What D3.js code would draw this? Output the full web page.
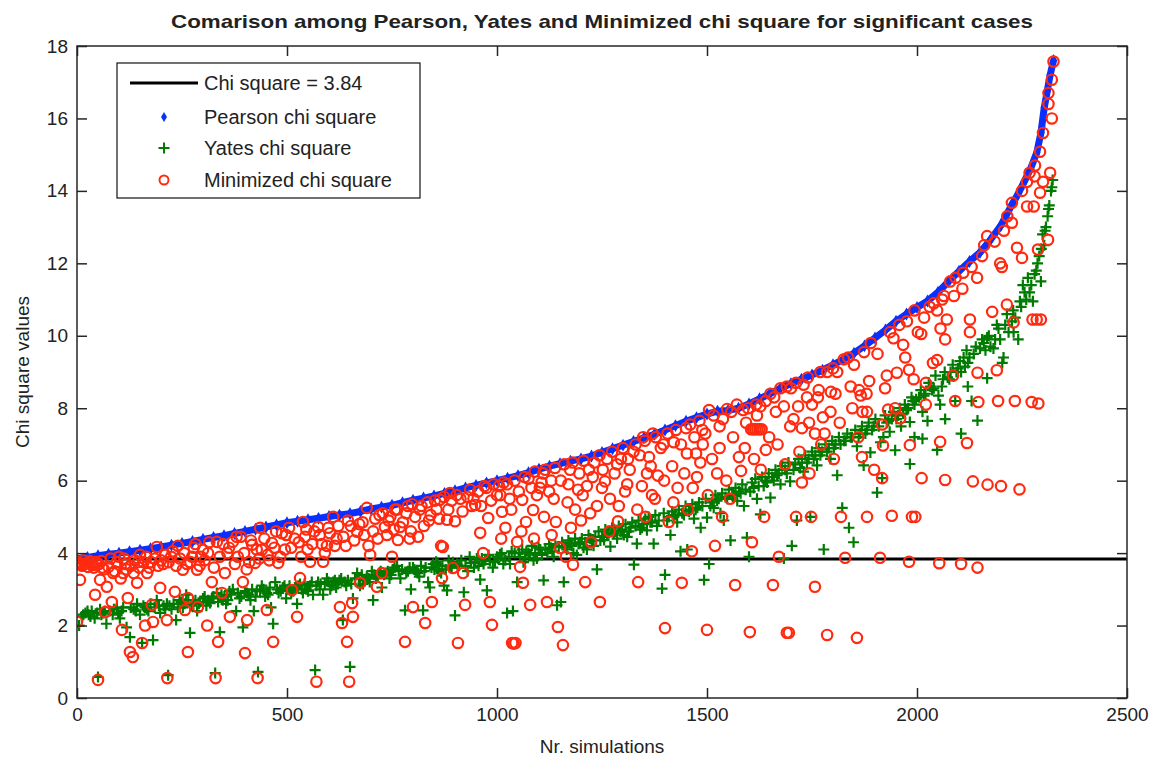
<!DOCTYPE html>
<html>
<head>
<meta charset="utf-8">
<script src="https://cdn.jsdelivr.net/npm/d3@7"></script>
<style>
  body { margin: 0; background: #fff; }
  text { font-family: "Liberation Sans", Arial, sans-serif; fill: #222; }
</style>
</head>
<body>
<div id="chart"></div>
<script>
// threshold
const critical = 3.84;

// Pearson chi square, sorted (simulation index, value)
const pearson = [
  [0,3.84],[25,3.88],[50,3.93],[75,3.97],[100,4.0],[125,4.04],[150,4.08],[175,4.12],[200,4.17],[225,4.22],
  [250,4.27],[275,4.32],[300,4.38],[325,4.43],[350,4.48],[375,4.54],[400,4.6],[425,4.66],[450,4.72],[475,4.78],
  [500,4.84],[525,4.88],[550,4.92],[575,4.96],[600,5.01],[625,5.05],[650,5.09],[675,5.15],[700,5.22],[725,5.27],
  [750,5.32],[775,5.39],[800,5.46],[825,5.52],[850,5.58],[875,5.65],[900,5.72],[925,5.8],[950,5.87],[975,5.94],
  [1000,6.0],[1025,6.07],[1050,6.14],[1075,6.22],[1100,6.32],[1125,6.4],[1150,6.47],[1175,6.54],[1200,6.6],[1225,6.68],
  [1250,6.78],[1275,6.88],[1300,6.98],[1325,7.08],[1350,7.18],[1375,7.28],[1400,7.4],[1425,7.52],[1450,7.64],[1475,7.74],
  [1500,7.84],[1525,7.92],[1550,7.94],[1575,8.0],[1600,8.12],[1625,8.26],[1650,8.4],[1675,8.55],[1700,8.68],[1725,8.8],
  [1750,8.92],[1775,9.05],[1800,9.2],[1825,9.35],[1850,9.52],[1875,9.72],[1900,9.94],[1925,10.16],[1950,10.4],[1975,10.6],
  [2000,10.78],[2025,10.96],[2050,11.2],[2075,11.5],[2100,11.78],[2125,12.05],[2150,12.3],[2175,12.65],[2200,13.05],[2225,13.6],
  [2240,13.9],[2255,14.25],[2270,14.6],[2285,15.05],[2295,15.6],[2303,16.3],[2310,16.75],[2317,17.2],[2325,17.6]
];

// Yates chi square: main band
const yatesBand = [
  [15,2.3],[25,2.4],[32,2.25],[48,2.35],[58,2.3],[66,2.4],[88,2.45],[98,2.35],[106,2.4],[128,2.5],[140,2.4],[158,2.55],
  [166,2.45],[175,2.6],[185,2.5],[195,2.55],[210,2.45],[220,2.55],[230,2.6],[240,2.5],[248,2.65],[256,2.6],[265,2.7],
  [273,2.55],[282,2.7],[290,2.6],[304,2.8],[312,2.7],[321,2.75],[336,2.65],[344,2.85],[351,2.8],[359,2.7],[367,2.85],
  [383,2.9],[391,2.8],[400,2.95],[409,2.85],[417,3.0],[425,2.8],[436,2.95],[444,3.0],[452,2.9],[459,3.05],[476,3.0],
  [485,2.95],[494,3.1],[502,3.0],[510,2.9],[519,3.05],[527,3.1],[535,3.0],[542,3.15],[550,2.95],[559,3.2],[570,3.1],
  [578,3.0],[590,3.15],[599,3.2],[606,3.1],[614,3.25],[621,3.15],[629,3.3],[637,3.2],[645,3.25],[653,3.15],[671,3.3],
  [678,3.4],[686,3.25],[694,3.3],[708,3.4],[716,3.35],[723,3.5],[731,3.4],[740,3.5],[748,3.4],[756,3.6],[766,3.5],
  [774,3.55],[784,3.45],[792,3.6],[803,3.55],[811,3.45],[819,3.65],[827,3.5],[844,3.6],[851,3.55],[859,3.7],[870,3.65],
  [878,3.55],[885,3.8],[892,3.6],[905,3.7],[915,3.8],[925,3.65],[935,3.9],[948,3.75],[956,3.65],[964,3.85],[972,3.8],
  [980,3.95],[995,3.75],[1003,3.85],[1011,4.0],[1020,3.8],[1028,3.9],[1035,4.05],[1052,4.0],[1060,4.1],[1067,3.85],
  [1075,4.0],[1083,4.2],[1091,4.0],[1099,4.15],[1107,3.95],[1115,4.1],[1124,4.25],[1132,4.05],[1139,4.2],[1155,4.3],
  [1162,4.15],[1170,4.35],[1178,4.2],[1186,4.4],[1194,4.25],[1202,4.4],[1210,4.3],[1218,4.5],[1226,4.35],[1234,4.45],
  [1242,4.6],[1250,4.45],[1258,4.65],[1266,4.55],[1274,4.7],[1282,4.6],[1290,4.75],[1298,4.65],[1306,4.8],[1314,4.6],
  [1322,4.85],[1330,4.75],[1337,4.9],[1345,4.7],[1353,4.95],[1361,5.0],[1369,4.85],[1377,5.05],[1385,4.9],[1397,5.1],
  [1409,5.0],[1417,5.15],[1425,5.05],[1433,5.2],[1441,5.1],[1449,5.3],[1457,5.15],[1465,5.35],[1473,5.2],[1481,5.4],
  [1489,5.3],[1497,5.5],[1512,5.4],[1520,5.6],[1528,5.5],[1536,5.65],[1544,5.55],[1552,5.75],[1560,5.6],[1568,5.8],
  [1576,5.7],[1584,5.9],[1592,5.75],[1607,5.95],[1615,6.05],[1623,5.85],[1631,6.1],[1639,6.0],[1647,6.2],[1655,6.1],
  [1663,6.3],[1671,6.2],[1679,6.4],[1686,6.3],[1694,6.5],[1710,6.45],[1718,6.6],[1726,6.5],[1734,6.7],[1742,6.6],
  [1750,6.8],[1758,6.7],[1766,6.9],[1774,6.8],[1782,7.0],[1790,6.9],[1798,7.1],[1806,7.0],[1814,7.2],[1826,7.1],
  [1834,7.3],[1842,7.2],[1853,7.4],[1861,7.2],[1869,7.5],[1877,7.3],[1885,7.6],[1893,7.4],[1901,7.7],[1909,7.5],
  [1924,7.8],[1932,7.65],[1944,7.9],[1951,7.7],[1959,8.0],[1967,7.85],[1971,8.1],[1979,8.0],[1987,8.3],[1998,8.25],
  [2009,8.5],[2017,8.35],[2028,8.7],[2036,8.5],[2044,8.9],[2059,8.6],[2066,9.0],[2077,8.8],[2085,9.2],[2094,9.0],
  [2102,9.3],[2114,9.15],[2118,9.6],[2125,9.4],[2140,9.7],[2155,9.9],[2163,9.6],[2171,10.0],[2186,9.9],[2194,10.2],
  [2210,10.3],[2218,10.1],[2234,10.5],[2248,10.8],[2256,11.2],[2272,11.4],[2284,11.8],[2296,12.4],[2305,12.9],[2313,13.5],
  [2321,14.1]
];

// Yates chi square: spread and outliers
const yatesSpread = [
  [5,2.0],[12,2.25],[20,2.35],[28,2.3],[35,2.4],[42,2.2],[50,0.58],[55,2.45],[62,2.35],[70,2.05],[78,2.4],[85,2.3],
  [95,2.48],[102,2.2],[110,2.5],[118,1.95],[126,1.68],[135,2.45],[143,2.6],[150,2.3],[155,1.52],[162,2.5],[170,2.4],
  [181,1.6],[190,2.7],[198,2.35],[206,2.55],[214,2.6],[217,0.63],[225,2.45],[236,2.15],[244,2.7],[252,2.5],[260,2.85],
  [269,1.8],[277,2.6],[286,2.4],[293,2.65],[300,2.75],[308,2.55],[317,2.62],[325,2.8],[329,0.69],[333,2.9],[340,1.82],
  [347,2.7],[355,2.6],[363,2.95],[371,3.0],[379,2.4],[387,2.75],[395,1.95],[405,2.9],[413,2.7],[421,2.4],[428,2.95],
  [431,0.72],[440,3.1],[448,2.8],[455,2.85],[462,2.5],[467,2.05],[472,3.2],[480,2.9],[490,3.05],[498,2.75],[506,3.1],
  [515,2.95],[524,2.6],[531,3.15],[538,2.9],[546,3.0],[555,3.1],[562,2.85],[567,0.77],[574,3.2],[580,3.15],[586,2.85],
  [595,3.3],[603,3.0],[610,3.2],[617,3.05],[625,3.25],[633,2.15],[641,3.1],[650,0.86],[657,2.75],[662,3.3],[667,3.45],
  [674,3.1],[681,3.15],[690,3.35],[697,3.2],[702,3.5],[705,2.7],[712,3.3],[719,3.45],[726,3.05],[736,3.45],[744,3.3],
  [752,3.55],[762,3.65],[770,3.3],[781,2.42],[788,3.5],[795,3.0],[800,3.6],[807,3.5],[815,3.35],[824,2.42],[830,3.6],
  [836,3.2],[840,3.05],[848,3.7],[855,3.76],[862,3.5],[867,3.45],[874,3.1],
  [881,2.97],[888,3.6],[895,3.75],[900,2.28],[910,3.65],[921,2.92],[930,3.5],[938,3.73],[945,3.6],[952,3.85],[960,3.27],
  [968,3.7],[976,2.97],[983,3.78],[990,3.6],[1000,3.9],[1007,3.96],[1015,3.7],[1024,2.35],[1031,3.7],[1038,2.4],[1042,4.0],
  [1048,3.2],[1055,3.9],[1063,3.75],[1070,4.05],[1079,3.96],[1087,3.8],[1095,3.85],[1103,4.1],[1111,3.25],[1120,4.0],
  [1128,4.15],[1135,3.9],[1143,2.56],[1147,4.18],[1152,2.65],[1159,3.2],[1166,4.1],[1174,4.28],[1182,4.0],[1190,3.95],
  [1198,4.3],[1206,4.15],[1214,4.1],[1222,4.4],[1230,4.2],[1238,3.55],[1246,4.35],[1255,4.36],[1262,4.5],[1270,4.18],
  [1278,4.55],[1286,4.4],[1294,4.6],[1302,4.5],[1310,4.45],[1318,4.7],[1326,3.68],[1333,4.26],[1341,4.65],[1349,4.8],
  [1357,4.63],[1365,4.85],[1373,4.26],[1381,4.75],[1393,3.02],[1400,3.4],[1405,4.9],[1413,4.5],[1421,5.0],[1429,4.85],
  [1437,4.05],[1445,5.05],[1453,4.1],[1461,5.2],[1469,4.95],[1477,5.25],[1485,4.7],[1493,3.26],[1500,4.98],[1505,3.7],
  [1508,5.3],[1516,5.25],[1524,5.45],[1532,5.1],[1540,4.9],[1548,5.5],[1556,4.35],[1564,5.6],[1572,5.44],[1580,5.65],
  [1588,5.3],[1595,4.43],[1600,3.9],[1603,5.7],[1611,5.8],[1619,5.5],[1627,5.07],[1635,5.85],[1643,5.95],[1651,5.53],
  [1659,6.0],[1667,6.15],[1675,5.9],[1683,3.85],[1690,6.2],[1698,5.98],[1702,4.2],[1706,6.3],[1714,4.9],[1722,6.35],
  [1730,6.25],[1738,6.5],[1746,5.0],[1754,6.6],[1762,6.42],[1770,6.7],[1778,4.1],[1786,6.8],[1794,6.6],[1802,6.9],
  [1810,6.15],[1818,7.0],[1822,5.25],[1830,7.1],[1838,4.7],[1845,7.2],[1849,4.3],[1857,6.95],[1865,7.3],[1873,6.42],
  [1881,7.4],[1889,6.78],[1897,7.5],[1905,5.67],[1913,7.06],[1917,6.07],[1920,7.2],
  [1928,7.6],[1935,7.35],[1940,7.7],[1948,6.84],[1955,7.8],[1962,7.5],[1975,7.95],[1983,7.62],[1983,6.46],[1990,8.2],
  [1994,8.1],[1994,7.2],[2005,8.3],[2013,7.9],[2013,7.16],[2020,8.4],[2025,7.65],[2032,8.6],[2040,8.55],[2048,6.85],
  [2051,8.35],[2055,8.1],[2062,8.8],[2067,7.7],[2073,8.85],[2080,9.0],[2091,8.2],[2098,9.1],[2105,9.0],[2105,7.3],
  [2111,9.4],[2121,9.25],[2121,8.6],[2130,8.2],[2135,9.5],[2144,7.66],[2150,9.65],[2159,9.8],[2167,9.95],[2167,8.83],
  [2175,9.7],[2182,9.65],[2190,10.3],[2198,9.9],[2203,9.25],[2206,9.4],[2214,10.6],[2226,10.4],[2229,10.7],[2230,10.1],
  [2241,9.9],[2245,10.95],[2252,11.4],[2260,11.0],[2264,11.6],[2268,11.2],[2276,10.95],[2280,11.7],[2287,12.0],[2291,12.2],
  [2295,11.5],[2299,12.8],[2303,12.5],[2307,13.0],[2311,13.3],[2315,13.6],[2319,14.0],[2323,14.3]
];

// Minimized chi square: cluster just under the Pearson curve
const minimizedNear = [
  [5,3.72],[12,3.65],[18,3.7],[26,3.62],[34,3.74],[40,3.6],[48,3.68],[58,3.78],[64,3.55],[75,3.62],[80,3.85],[90,3.5],
  [104,3.3],[112,3.85],[118,3.55],[128,3.65],[135,3.45],[148,3.6],[158,3.75],[165,3.9],[172,3.6],[185,3.85],[193,3.65],
  [200,3.8],[210,3.95],[218,3.75],[228,4.05],[236,3.65],[245,3.85],[255,4.0],[262,3.7],[274,3.9],[282,4.25],[292,3.65],
  [304,3.8],[312,4.0],[326,3.6],[340,3.9],[348,4.25],[362,4.15],[376,3.7],[380,4.45],[398,4.0],[404,3.55],[414,4.35],
  [428,4.1],[434,3.85],[446,4.4],[454,3.95],[470,4.15],[484,3.9],[498,4.5],[510,4.15],[528,4.3],[534,3.9],[546,4.65],
  [560,4.25],[578,4.5],[590,4.0],[598,4.7],[614,4.2],[622,4.75],[634,4.45],[645,4.9],[660,4.35],[672,4.8],[684,4.5],
  [694,4.2],[710,4.95],[716,4.4],[728,5.1],[738,4.5],[746,5.0],[754,4.65],[762,5.2],[776,4.85],[784,5.1],[792,4.4],
  [798,5.35],[816,5.2],[826,4.75],[834,5.4],[842,5.05],[856,5.2],[874,5.55],[884,5.2],[892,5.45],[904,5.6],[918,5.15],
  [936,5.75],[944,5.5],[962,5.3],[970,5.85],[986,5.45],[992,5.9],[1008,5.6],[1016,5.95],[1030,5.5],[1042,6.0],[1052,5.7],
  [1066,6.1],[1082,5.8],[1090,6.25],[1106,5.95],[1115,6.3],[1124,5.7],[1138,6.35],[1152,6.0],[1160,6.45],[1170,5.9],
  [1180,6.5],[1196,6.2],[1206,6.55],[1214,5.85],[1228,6.1],[1244,6.7],[1252,6.3],[1274,6.8],[1286,6.45],[1300,6.9],
  [1312,6.6],[1330,7.0],[1340,6.7],[1352,7.1],[1366,6.4],[1378,7.2],[1396,7.0],[1406,7.3],[1426,7.4],[1438,7.0],
  [1460,7.55],[1470,7.2],[1482,7.65],[1496,7.3],[1516,7.8],[1530,7.5],[1558,7.9],[1586,7.95],[1598,8.0],[1640,8.2],
  [1660,8.3],[1690,8.6],[1712,8.7],[1740,8.85],[1770,9.0],[1800,9.1],[1836,9.4],[1890,9.8],[1906,9.5],[1936,10.1],
  [1958,10.3],[1976,10.4],[2030,10.8],[2060,11.0],[2092,11.6],[2130,11.9],[2155,12.2],[2185,12.6],[2215,13.3],[2250,14.0],
  [2268,14.5],
  [1010,4.4],[1034,5.2],[1058,4.6],[1088,4.4],[1112,5.0],[1130,4.5],[1168,5.4],[1176,4.7],[1204,5.6],[1222,5.1],
  [1250,5.8],[1268,4.6],[1290,5.3],[1310,5.9],[1334,5.2],[1354,5.0],[1376,5.5],[1398,6.0],[1420,5.4],[1446,6.2],
  [1466,5.8],[1484,6.5],[1502,5.6],[1530,6.9],[1546,6.0],[1562,7.2],[1590,6.9],[1612,6.6],[1648,7.2],[1668,7.0],
  [1698,7.5],[1720,6.8],[1744,6.2],[1772,7.0],[1794,7.9],[1816,7.6],[1846,8.0],[1860,7.2],[1880,8.4],[1898,6.3],
  [1928,8.9],[1948,8.0],[1972,9.4],[1992,8.8]
];

// Minimized chi square: spread and low rows
const minimizedSpread = [
  [0,2.1],[2,3.76],[8,3.7],[15,3.8],[22,3.72],[30,3.78],[38,3.68],[45,3.75],[52,3.7],[7,3.26],[43,2.85],[50,0.5],
  [55,3.26],[60,3.6],[67,2.37],[71,3.07],[83,2.65],[86,3.45],[95,3.75],[100,3.9],[107,1.88],[110,3.45],[115,3.7],
  [121,2.76],[126,1.27],[133,1.13],[138,3.8],[143,3.18],[145,3.75],[150,3.95],[155,1.52],[162,2.0],[167,3.45],[176,3.75],
  [178,2.57],[181,2.1],[190,4.17],[198,3.04],[205,3.7],[214,2.15],[215,0.55],[224,3.9],[233,2.93],[240,4.2],[252,3.54],
  [257,2.43],[264,2.76],[264,1.27],[270,3.75],[278,4.15],[286,3.54],[288,2.51],[295,3.9],[300,4.09],[310,2.0],[315,4.3],
  [321,3.2],[330,0.55],[333,4.31],[336,1.55],[345,2.9],[352,3.45],[358,4.0],[364,2.24],[371,4.31],[383,3.9],[390,4.45],
  [395,3.2],[400,1.24],[405,2.15],[410,3.75],[417,4.23],[424,3.73],[430,0.55],[436,4.7],[440,4.09],[452,2.43],[458,3.8],
  [464,4.28],[467,1.55],[474,4.6],[479,3.73],[488,4.55],[495,4.1],[505,4.7],[512,2.98],[518,4.4],[524,2.24],[531,3.31],
  [538,4.86],[543,4.45],[549,4.1],[555,3.76],[565,4.6],[570,0.45],[574,4.72],[583,4.25],[586,3.76],[595,4.2],[602,4.55],
  [610,5.0],[618,4.4],[626,2.51],[631,2.07],[640,4.2],[643,1.55],[648,0.45],[652,4.75],[655,2.62],[657,2.24],[667,4.59],
  [674,3.18],[680,4.85],[690,5.25],[698,3.95],[705,4.6],[714,3.07],[720,5.05],[726,3.45],[733,4.72],[742,4.9],[750,3.9],
  [757,5.2],[764,4.36],[769,4.72],[781,1.55],[788,5.3],[795,4.6],[800,2.51],[805,5.0],[812,4.45],[820,5.3],[829,2.07],
  [838,4.9],[845,2.65],[852,5.45],[862,4.95],[867,4.2],[869,3.31],
  [864,5.47],[871,4.17],[881,4.92],[888,5.66],[895,3.59],[900,4.88],[907,1.52],[913,5.5],[919,3.45],[924,2.57],[930,5.55],
  [940,5.3],[948,5.33],[955,5.7],[960,4.56],[967,4.0],[975,5.8],[979,4.97],[983,2.65],[988,2.02],[1000,5.6],[1005,5.85],
  [1012,5.14],[1020,4.7],[1024,5.9],[1036,1.52],[1040,1.5],[1044,1.52],[1048,4.31],[1055,3.62],[1060,5.47],[1062,3.18],
  [1069,4.86],[1075,6.05],[1079,2.57],[1086,5.19],[1095,5.6],[1102,5.8],[1110,6.2],[1119,2.65],[1129,6.0],[1135,5.5],
  [1140,4.86],[1145,1.96],[1150,4.14],[1157,1.46],[1164,3.9],[1174,6.3],[1181,3.68],[1186,5.2],[1193,5.75],[1200,4.9],
  [1210,3.2],[1219,6.3],[1224,4.3],[1232,6.5],[1238,5.3],[1245,2.65],[1257,5.98],[1262,6.6],[1269,5.5],[1280,6.2],
  [1288,4.88],[1295,6.6],[1305,5.7],[1316,6.3],[1325,6.8],[1336,3.2],[1345,5.85],[1348,7.2],[1357,6.2],[1362,6.65],
  [1369,5.6],[1371,7.3],[1383,6.14],[1390,6.9],[1400,1.93],[1409,4.86],[1417,6.4],[1421,7.06],[1430,5.8],[1440,3.18],
  [1450,7.45],[1452,6.75],[1455,5.2],[1464,4.05],[1474,6.75],[1476,6.1],[1489,7.4],[1490,7.0],[1500,1.88],[1505,7.95],
  [1512,6.6],[1519,4.2],[1524,6.2],[1536,5.0],[1538,7.7],[1548,7.98],[1555,5.5],[1567,3.12],[1571,8.1],[1576,6.65],
  [1581,6.27],[1593,7.6],[1602,1.82],[1605,7.42],[1610,7.42],[1615,7.42],[1620,7.42],[1625,7.42],[1630,7.42],[1607,4.3],
  [1617,8.1],[1619,7.8],[1627,8.05],[1628,6.3],[1636,5.0],[1640,6.85],[1651,8.4],[1657,3.12],[1664,7.9],[1671,3.9],
  [1675,8.55],[1683,8.05],[1686,6.45],[1690,1.8],[1695,1.8],[1700,8.55],[1706,7.7],[1712,5.0],[1717,8.05],[1726,5.95],
  [1726,7.45],[1730,8.65],[1738,8.3],[1743,7.6],[1748,5.0],[1750,8.1],[1757,7.3],[1757,3.07],[1764,8.3],[1766,8.5],
  [1776,7.75],[1780,7.3],[1786,9.0],[1786,1.74],[1795,8.45],[1802,6.6],[1806,8.4],[1810,9.0],[1819,5.0],[1826,9.35],
  [1829,3.87],[1842,8.6],[1850,9.2],[1857,1.66],[1862,8.5],[1866,8.35],[1869,6.65],[1870,7.9],[1874,9.55],[1881,7.9],
  [1881,5.0],[1886,8.75],[1912,3.87],
  [1917,7.55],[1917,6.07],[1919,6.97],[1924,8.55],[1931,7.96],[1940,5.03],[1944,9.93],[1952,8.98],[1960,7.72],[1967,9.75],
  [1981,9.06],[1981,3.76],[1983,6.98],[1988,5.0],[1994,10.7],[1996,5.0],[2002,10.1],[2010,10.05],[2011,6.07],[2017,10.5],
  [2021,8.7],[2021,8.1],[2038,9.25],[2040,10.9],[2048,10.7],[2048,9.33],[2053,3.72],[2055,7.07],[2056,10.2],[2064,11.1],
  [2067,9.9],[2067,6.02],[2071,10.45],[2079,11.5],[2086,8.9],[2088,11.1],[2091,8.2],[2105,3.7],[2108,11.3],[2110,11.74],
  [2119,7.04],[2126,10.45],[2126,10.1],[2133,5.98],[2143,11.6],[2144,8.98],[2144,3.6],[2146,8.17],[2160,12.5],[2167,12.75],
  [2168,5.89],[2179,10.66],[2190,9.05],[2193,8.2],[2198,12.0],[2200,5.85],[2202,11.9],[2207,12.9],[2214,10.86],[2226,13.67],
  [2226,13.12],[2230,10.37],[2233,8.2],[2238,12.43],[2244,5.76],[2250,12.15],[2262,14.25],[2262,13.57],[2273,8.17],
  [2275,10.45],[2278,13.57],[2280,14.4],[2281,14.7],[2285,10.45],[2288,12.38],[2289,8.13],[2293,15.08],[2293,13.95],
  [2295,10.45],[2300,15.6],[2300,14.25],[2312,12.65],[2313,16.7],[2313,16.4],[2317,14.5],[2321,16.0],[2321,17.07],[2325,17.57]
];

const yates = yatesBand.concat(yatesSpread);
const minimized = minimizedNear.concat(minimizedSpread);

const xTicks = [0, 500, 1000, 1500, 2000, 2500];
const yTicks = [0, 2, 4, 6, 8, 10, 12, 14, 16, 18];
const legendLabels = ["Chi square = 3.84", "Pearson chi square", "Yates chi square", "Minimized chi square"];

const blue = "#0a2fff", green = "#007a00", red = "#ff2a10";

const W = 1152, H = 760;
const margin = { left: 77, right: 25, top: 46, bottom: 62 };
const width = W - margin.left - margin.right;
const height = H - margin.top - margin.bottom;

const svg = d3.select("#chart").append("svg")
    .attr("width", W)
    .attr("height", H);

const g = svg.append("g")
    .attr("transform", `translate(${margin.left},${margin.top})`);

const x = d3.scaleLinear().domain([0, 2500]).range([0, width]);
const y = d3.scaleLinear().domain([0, 18]).range([height, 0]);

// clip marks to the axes box
svg.append("defs").append("clipPath").attr("id", "plotclip")
    .append("rect").attr("width", width).attr("height", height);

const plot = g.append("g").attr("clip-path", "url(#plotclip)");

// threshold line
plot.append("line")
    .attr("x1", x(0)).attr("x2", x(2500))
    .attr("y1", y(critical)).attr("y2", y(critical))
    .attr("stroke", "#000")
    .attr("stroke-width", 3);

// Pearson: dense diamonds, joined so the band reads as continuous
plot.append("path")
    .datum(pearson)
    .attr("fill", "none")
    .attr("stroke", blue)
    .attr("stroke-width", 7)
    .attr("stroke-linejoin", "round")
    .attr("d", d3.line().x(d => x(d[0])).y(d => y(d[1])));

const diamond = d3.symbol().type(d3.symbolDiamond).size(48);
plot.append("g").selectAll("path")
    .data(pearson)
    .join("path")
    .attr("transform", d => `translate(${x(d[0])},${y(d[1])})`)
    .attr("d", diamond)
    .attr("fill", blue);

// Yates: plus markers
const plusPath = "M-5.5,0H5.5M0,-5.5V5.5";
plot.append("g").selectAll("path")
    .data(yates)
    .join("path")
    .attr("transform", d => `translate(${x(d[0])},${y(d[1])})`)
    .attr("d", plusPath)
    .attr("fill", "none")
    .attr("stroke", green)
    .attr("stroke-width", 2.2);

// Minimized: open circles
plot.append("g").selectAll("circle")
    .data(minimized)
    .join("circle")
    .attr("cx", d => x(d[0]))
    .attr("cy", d => y(d[1]))
    .attr("r", 5.2)
    .attr("fill", "none")
    .attr("stroke", red)
    .attr("stroke-width", 2.2);

// axes, ticks pointing inward on all four sides
const tickFont = 19;
const axisColor = "#262626";

const xAxis = g.append("g")
    .attr("transform", `translate(0,${height})`)
    .call(d3.axisBottom(x).tickValues(xTicks).tickSize(-10).tickSizeOuter(0).tickPadding(10).tickFormat(d3.format("d")));
const xTop = g.append("g")
    .call(d3.axisTop(x).tickValues(xTicks).tickSize(-10).tickSizeOuter(0).tickFormat(""));
const yAxis = g.append("g")
    .call(d3.axisLeft(y).tickValues(yTicks).tickSize(-10).tickSizeOuter(0).tickPadding(9).tickFormat(d3.format("d")));
const yRight = g.append("g")
    .attr("transform", `translate(${width},0)`)
    .call(d3.axisRight(y).tickValues(yTicks).tickSize(-10).tickSizeOuter(0).tickFormat(""));

[xAxis, xTop, yAxis, yRight].forEach(a => {
    a.select(".domain").remove();
    a.selectAll("line").attr("stroke", axisColor).attr("stroke-width", 1.5);
    a.selectAll("text")
        .style("font-family", "'Liberation Sans', Arial, sans-serif")
        .style("font-size", tickFont + "px")
        .attr("fill", "#222");
});

g.append("rect")
    .attr("width", width)
    .attr("height", height)
    .attr("fill", "none")
    .attr("stroke", axisColor)
    .attr("stroke-width", 1.5);

// title and axis labels
svg.append("text")
    .attr("x", margin.left + width / 2)
    .attr("y", 28)
    .attr("text-anchor", "middle")
    .style("font-size", "19px")
    .style("font-weight", "bold")
    .attr("textLength", 862)
    .attr("lengthAdjust", "spacingAndGlyphs")
    .text("Comarison among Pearson, Yates and Minimized chi square for significant cases");

svg.append("text")
    .attr("x", margin.left + width / 2)
    .attr("y", 753)
    .attr("text-anchor", "middle")
    .style("font-size", "19px")
    .text("Nr. simulations");

svg.append("text")
    .attr("transform", `translate(29,${margin.top + height / 2}) rotate(-90)`)
    .attr("text-anchor", "middle")
    .style("font-size", "19px")
    .text("Chi square values");

// legend
const legend = svg.append("g").attr("transform", "translate(117,63)");
legend.append("rect")
    .attr("width", 303)
    .attr("height", 135)
    .attr("fill", "#fff")
    .attr("stroke", "#111")
    .attr("stroke-width", 1.2);

const rowY = [20, 54, 85, 117];
legendLabels.forEach((label, i) => {
    const row = legend.append("g").attr("transform", `translate(0,${rowY[i]})`);
    if (i === 0) {
        row.append("line").attr("x1", 13).attr("x2", 81)
            .attr("stroke", "#000").attr("stroke-width", 3);
    } else if (i === 1) {
        row.append("path").attr("transform", "translate(47,0)")
            .attr("d", d3.symbol().type(d3.symbolDiamond).size(30)).attr("fill", blue);
    } else if (i === 2) {
        row.append("path").attr("transform", "translate(47,0)")
            .attr("d", plusPath).attr("stroke", green).attr("stroke-width", 2).attr("fill", "none");
    } else {
        row.append("circle").attr("cx", 47).attr("r", 4.5)
            .attr("fill", "none").attr("stroke", red).attr("stroke-width", 2);
    }
    row.append("text")
        .attr("x", 87)
        .attr("dy", "0.36em")
        .style("font-size", "20px")
        .text(label);
});
</script>
</body>
</html>
